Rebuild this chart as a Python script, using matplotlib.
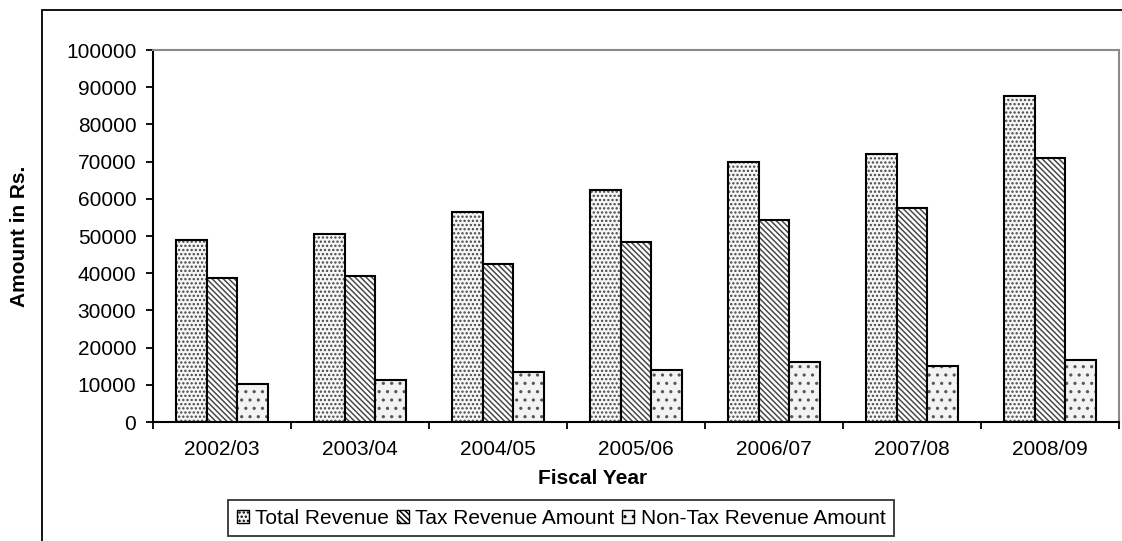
import numpy as np
import matplotlib.pyplot as plt
from matplotlib.patches import Rectangle, Patch

plt.rcParams['font.family'] = ['Liberation Sans', 'DejaVu Sans']
plt.rcParams['hatch.linewidth'] = 1.1

years = ["2002/03", "2003/04", "2004/05", "2005/06", "2006/07", "2007/08", "2008/09"]
total_revenue = [48900, 50600, 56500, 62400, 70000, 72000, 87700]
tax_revenue = [38800, 39200, 42500, 48400, 54300, 57600, 71000]
non_tax_revenue = [10300, 11400, 13500, 14100, 16100, 15100, 16700]

series = [
    ("Total Revenue", total_revenue, "....", "#f6f6f6", "#444444"),
    ("Tax Revenue Amount", tax_revenue, "\\\\\\\\\\\\", "#ffffff", "#4a4a4a"),
    ("Non-Tax Revenue Amount", non_tax_revenue, "..", "#f3f3f3", "#555555"),
]

fig = plt.figure(figsize=(11.22, 5.41), dpi=100)
W, H = 1122, 541

# outer chart frame (cut off at right/bottom like the source)
fig.add_artist(Rectangle((42 / W, -0.05), 1.2, 1.05 - 10 / H, transform=fig.transFigure,
                         fill=False, edgecolor="black", linewidth=1.3))

ax = fig.add_axes([153 / W, 1 - 422 / H, (1119 - 153) / W, (422 - 50) / H])

x = np.arange(len(years))
width = 0.222
offsets = [-width, 0, width]
handles = []
for (name, vals, hatch, face, hcol), off in zip(series, offsets):
    ax.bar(x + off, vals, width, color=face, edgecolor=hcol, hatch=hatch, linewidth=0)
    ax.bar(x + off, vals, width, fill=False, edgecolor="black", linewidth=1.5)
    handles.append(Patch(facecolor=face, edgecolor="black", hatch=hatch, linewidth=1.0, label=name))

ax.set_xlim(-0.5, len(years) - 0.5)
ax.set_ylim(0, 100000)
ax.set_yticks(np.arange(0, 100001, 10000))
ax.set_yticklabels([str(v) for v in range(0, 100001, 10000)])
ax.set_xticks(x)
ax.set_xticklabels(years)
ax.set_xticks(np.arange(-0.5, len(years)), minor=True)

ax.tick_params(axis="y", direction="out", length=5, width=1.3, labelsize=15, pad=7)
ax.tick_params(axis="x", which="major", length=0, labelsize=15, pad=13)
ax.tick_params(axis="x", which="minor", direction="out", length=5, width=1.3)

for s in ["left", "bottom"]:
    ax.spines[s].set_linewidth(1.5)
    ax.spines[s].set_color("black")
for s in ["top", "right"]:
    ax.spines[s].set_linewidth(1.5)
    ax.spines[s].set_color("#8a8a8a")

fig.text(593 / W, 1 - 478 / H, "Fiscal Year", ha="center", va="center", fontsize=15, fontweight="bold")
fig.text(20 / W, 1 - 236 / H, "Amount in Rs.", ha="center", va="center", rotation=90,
         fontsize=15, fontweight="bold")

leg = fig.legend(handles=handles, loc="center", bbox_to_anchor=(561 / W, 1 - 518 / H), ncol=3,
                 fontsize=15, frameon=True, fancybox=False, handlelength=0.6, handleheight=0.6,
                 handletextpad=0.3, columnspacing=0.35, borderpad=0.4)
leg.get_frame().set_edgecolor("black")
leg.get_frame().set_linewidth(1.3)

fig.savefig("out.png", dpi=100)
